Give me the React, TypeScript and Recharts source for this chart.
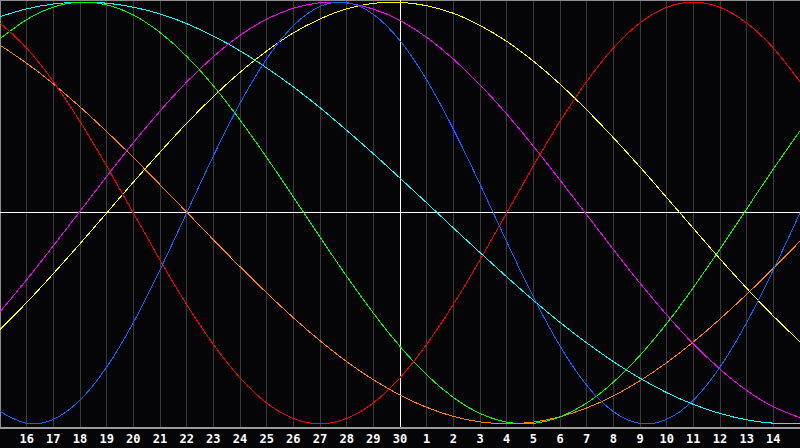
import React from "react";
import { LineChart, Line, XAxis, YAxis, CartesianGrid, ReferenceLine } from "recharts";

const dayLabels = [15, 16, 17, 18, 19, 20, 21, 22, 23, 24, 25, 26, 27, 28, 29, 30, 1, 2, 3, 4, 5, 6, 7, 8, 9, 10, 11, 12, 13, 14, 15];
const labelTicks = [1, 2, 3, 4, 5, 6, 7, 8, 9, 10, 11, 12, 13, 14, 15, 16, 17, 18, 19, 20, 21, 22, 23, 24, 25, 26, 27, 28, 29];

const blueSeries = [-94.2, -99.8, -97.9, -88.8, -73.1, -52.0, -27.0, 0, 27.0, 52.0, 73.1, 88.8, 97.9, 99.8, 94.2, 81.7, 63.1, 39.8, 13.6, -13.6, -39.8, -63.1, -81.7, -94.2, -99.8, -97.9, -88.8, -73.1, -52.0, -27.0, 0];
const redSeries = [90.1, 78.2, 62.3, 43.4, 22.3, 0, -22.3, -43.4, -62.3, -78.2, -90.1, -97.5, -100, -97.5, -90.1, -78.2, -62.3, -43.4, -22.3, 0, 22.3, 43.4, 62.3, 78.2, 90.1, 97.5, 100, 97.5, 90.1, 78.2, 62.3];
const greenSeries = [82.6, 91.7, 97.6, 100, 98.7, 93.9, 85.6, 74.3, 60.3, 44.1, 26.3, 7.6, -11.4, -30.0, -47.5, -63.3, -76.8, -87.5, -95.1, -99.2, -99.8, -96.7, -90.2, -80.3, -67.6, -52.5, -35.4, -17.1, 1.9, 20.8, 38.9];
const magentaSeries = [-46.9, -31.7, -15.6, 0.8, 17.3, 33.3, 48.3, 62.1, 74.1, 84.2, 91.9, 97.1, 99.7, 99.6, 96.7, 91.3, 83.3, 73.0, 60.8, 46.9, 31.7, 15.6, -0.8, -17.3, -33.3, -48.3, -62.1, -74.1, -84.2, -91.9, -97.1];
const yellowSeries = [-55.2, -42.5, -28.8, -14.6, 0, 14.6, 28.8, 42.5, 55.2, 66.7, 76.8, 85.4, 92.0, 96.8, 99.4, 99.9, 98.3, 94.7, 88.9, 81.4, 72.0, 61.1, 48.9, 35.7, 21.8, 7.3, -7.3, -21.8, -35.7, -48.9, -61.1];
const orangeSeries = [79.6, 71.0, 61.2, 50.3, 38.6, 26.3, 13.4, 0.4, -12.7, -25.5, -37.9, -49.7, -60.6, -70.5, -79.1, -86.4, -92.2, -96.5, -99.1, -100, -99.2, -96.7, -92.5, -86.8, -79.6, -71.0, -61.2, -50.3, -38.6, -26.3, -13.4];
const cyanSeries = [93.1, 96.8, 99.1, 100, 99.5, 97.6, 94.4, 89.8, 83.9, 76.9, 68.8, 59.8, 49.9, 39.2, 28.1, 16.5, 4.8, -7.1, -18.8, -30.3, -41.4, -51.9, -61.6, -70.5, -78.4, -85.2, -90.8, -95.1, -98.1, -99.7, -99.9];

const data = dayLabels.map((d, i) => ({
  i,
  day: d,
  blue: blueSeries[i],
  red: redSeries[i],
  green: greenSeries[i],
  magenta: magentaSeries[i],
  yellow: yellowSeries[i],
  orange: orangeSeries[i],
  cyan: cyanSeries[i],
}));

const series = [
  { key: "orange", color: "#ff8000" },
  { key: "cyan", color: "#00ffff" },
  { key: "yellow", color: "#ffff00" },
  { key: "magenta", color: "#ff00ff" },
  { key: "green", color: "#00ff00" },
  { key: "red", color: "#ff0000" },
  { key: "blue", color: "#0a64ff" },
];

export default function App() {
  return (
    <div style={{ position: "absolute", left: 0, top: 0, width: 800, height: 448, background: "#050508" }}>
      <LineChart width={800} height={448} data={data} margin={{ top: 0, right: 0, left: 0, bottom: 0 }}>
        <CartesianGrid vertical={true} horizontal={false} stroke="#3a3a3a" strokeDasharray="" shapeRendering="crispEdges" />
        <XAxis
          dataKey="i"
          type="number"
          domain={[0, 30]}
          ticks={labelTicks}
          interval={0}
          height={20}
          tickLine={false}
          tickSize={0}
          tickMargin={6}
          axisLine={{ stroke: "#9a9a9a", strokeWidth: 2 }}
          tickFormatter={(v: number) => String(dayLabels[v])}
          tick={{ fill: "#ffffff", fontSize: 12, fontWeight: "bold", fontFamily: "DejaVu Sans Mono" }}
        />
        <YAxis hide domain={[-102, 101]} width={0} />
        <ReferenceLine y={101} stroke="#8c8c8c" strokeWidth={2} />
        <ReferenceLine x={0} stroke="#8c8c8c" strokeWidth={2} />
        <ReferenceLine x={15} stroke="#ffffff" strokeWidth={1} shapeRendering="crispEdges" />
        <ReferenceLine y={0} stroke="#ffffff" strokeWidth={1} shapeRendering="crispEdges" />
        {series.map((s) => (
          <Line
            key={s.key}
            dataKey={s.key}
            type="natural"
            stroke={s.color}
            strokeWidth={1}
            dot={false}
            activeDot={false}
            shapeRendering="crispEdges"
            isAnimationActive={false}
          />
        ))}
      </LineChart>
    </div>
  );
}
